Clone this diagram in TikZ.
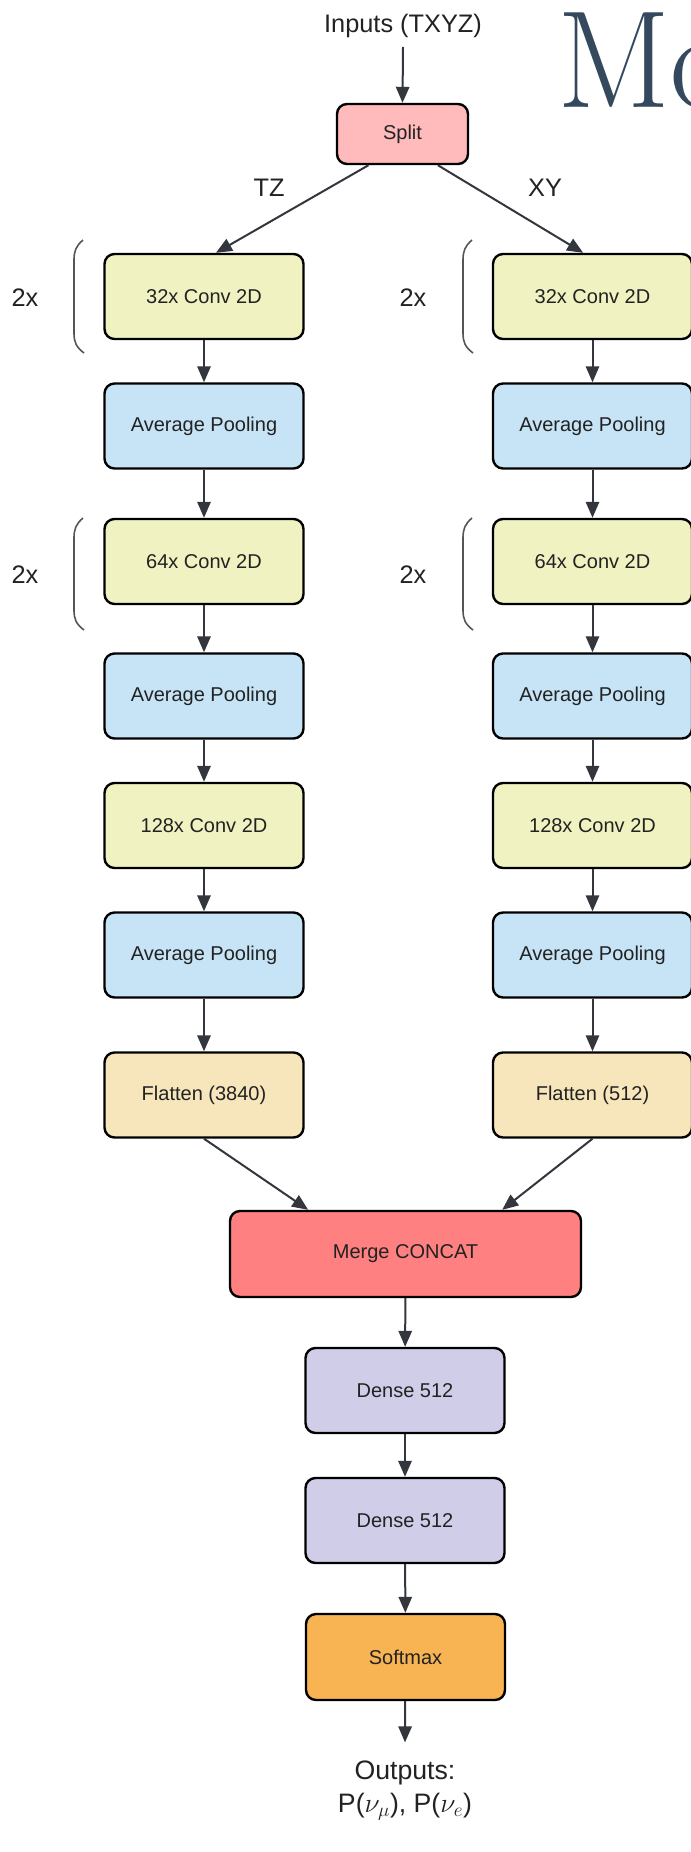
\documentclass[tikz,border=0pt]{standalone}
\usepackage{fontspec}
\newfontfamily\sansf{Liberation Sans}
\usetikzlibrary{arrows.meta}
\definecolor{splitc}{HTML}{FFBBBB}
\definecolor{convc}{HTML}{F0F2C2}
\definecolor{poolc}{HTML}{C6E4F6}
\definecolor{flatc}{HTML}{F7E6BB}
\definecolor{mergec}{HTML}{FF8080}
\definecolor{densec}{HTML}{D0CDE8}
\definecolor{softc}{HTML}{F8B452}
\definecolor{arrc}{HTML}{33363D}
\definecolor{mcol}{HTML}{34495E}
\definecolor{textc}{HTML}{222222}
\definecolor{brkc}{HTML}{555555}
\begin{document}
\begin{tikzpicture}[x=0.75pt,y=-0.75pt,
  box/.style={draw=black, line width=1.8pt, rounded corners=7.5pt,
    minimum width=149.25pt, minimum height=63.75pt, inner sep=0pt,
    font=\sansf\fontsize{15}{18}\selectfont, text=textc},
  convbox/.style={box, fill=convc},
  poolbox/.style={box, fill=poolc},
  flatbox/.style={box, fill=flatc},
  densebox/.style={box, fill=densec},
  softbox/.style={box, fill=softc, minimum height=64.5pt},
  splitbox/.style={box, fill=splitc, minimum width=98.25pt, minimum height=45pt},
  mergebox/.style={box, fill=mergec, minimum width=263.25pt, minimum height=64.5pt},
  lbl/.style={font=\sansf\fontsize{19}{23}\selectfont, text=textc, inner sep=0pt},
  arr/.style={draw=arrc, line width=1.5pt, -{Triangle[length=12pt,width=10pt]}},
  brk/.style={draw=brkc, line width=1.2pt}
]
\useasboundingbox (0,0) rectangle (690,1852);

% title fragment
\node[anchor=base west, inner sep=0pt, text=mcol,
  font=\fontsize{104}{104}\selectfont] (title) at (557,108) {\scalebox{0.96}[1]{Mo}};

% input
\node[lbl, anchor=base, outer sep=0pt] (in) at (403,33) {Inputs (TXYZ)};
\node[splitbox] (split) at (402.5,134) {Split};

% left column
\node[convbox] (c1L) at (204,296.5) {32x Conv 2D};
\node[poolbox] (p1L) at (204,426) {Average Pooling};
\node[convbox] (c2L) at (204,561.5) {64x Conv 2D};
\node[poolbox] (p2L) at (204,696) {Average Pooling};
\node[convbox] (c3L) at (204,825.5) {128x Conv 2D};
\node[poolbox] (p3L) at (204,955) {Average Pooling};
\node[flatbox] (fL) at (204,1095) {Flatten (3840)};

% right column
\node[convbox] (c1R) at (592.5,296.5) {32x Conv 2D};
\node[poolbox] (p1R) at (592.5,426) {Average Pooling};
\node[convbox] (c2R) at (592.5,561.5) {64x Conv 2D};
\node[poolbox] (p2R) at (592.5,696) {Average Pooling};
\node[convbox] (c3R) at (592.5,825.5) {128x Conv 2D};
\node[poolbox] (p3R) at (592.5,955) {Average Pooling};
\node[flatbox] (fR) at (592.5,1095) {Flatten (512)};

% merge and head
\node[mergebox] (merge) at (405.5,1254) {Merge CONCAT};
\node[densebox] (d1) at (405,1390.5) {Dense 512};
\node[densebox] (d2) at (405,1520.5) {Dense 512};
\node[softbox] (soft) at (405.5,1657) {Softmax};
\node[anchor=base, align=center, inner sep=0pt, outer sep=0pt, text=textc,
  font=\sansf\fontsize{20}{24.75}\selectfont] (out) at (405,1812)
  {Outputs:\\P($\nu_{\mu}$), P($\nu_{e}$)};

% labels
\node[lbl, anchor=base] (tz) at (269,196) {TZ};
\node[lbl, anchor=base] (xy) at (545,196) {XY};
\node[lbl, anchor=base] (r1L) at (25,306) {2x};
\node[lbl, anchor=base] (r2L) at (25,583) {2x};
\node[lbl, anchor=base] (r1R) at (413,306) {2x};
\node[lbl, anchor=base] (r2R) at (413,583) {2x};

% brackets
\draw[brk] (83,240) .. controls (76,246) and (74,251) .. (74,260) -- (74,333) .. controls (74,342) and (76,347) .. (84,353);
\draw[brk] (83,518) .. controls (76,524) and (74,529) .. (74,538) -- (74,610) .. controls (74,619) and (76,624) .. (84,630);
\draw[brk] (472,240) .. controls (465,246) and (463,251) .. (463,260) -- (463,333) .. controls (463,342) and (465,347) .. (473,353);
\draw[brk] (472,518) .. controls (465,524) and (463,529) .. (463,538) -- (463,610) .. controls (463,619) and (465,624) .. (473,630);

% connectors
\draw[arr] ([yshift=-10.5pt]in.base) -- (split.north);
\draw[arr] ([xshift=-25.5pt]split.south) -- ([xshift=9pt]c1L.north);
\draw[arr] ([xshift=26.5pt]split.south) -- ([xshift=-7pt]c1R.north);

\draw[arr] (c1L) -- (p1L);
\draw[arr] (p1L) -- (c2L);
\draw[arr] (c2L) -- (p2L);
\draw[arr] (p2L) -- (c3L);
\draw[arr] (c3L) -- (p3L);
\draw[arr] (p3L) -- (fL);

\draw[arr] (c1R) -- (p1R);
\draw[arr] (p1R) -- (c2R);
\draw[arr] (c2R) -- (p2R);
\draw[arr] (p2R) -- (c3R);
\draw[arr] (c3R) -- (p3R);
\draw[arr] (p3R) -- (fR);

\draw[arr] (fL.south) -- ([xshift=-73pt]merge.north);
\draw[arr] (fR.south) -- ([xshift=72.5pt]merge.north);
\draw[arr] (merge) -- (d1);
\draw[arr] (d1) -- (d2);
\draw[arr] (d2) -- (soft);
\draw[arr] (soft) -- ([yshift=13.5pt]out.north);
\end{tikzpicture}
\end{document}
